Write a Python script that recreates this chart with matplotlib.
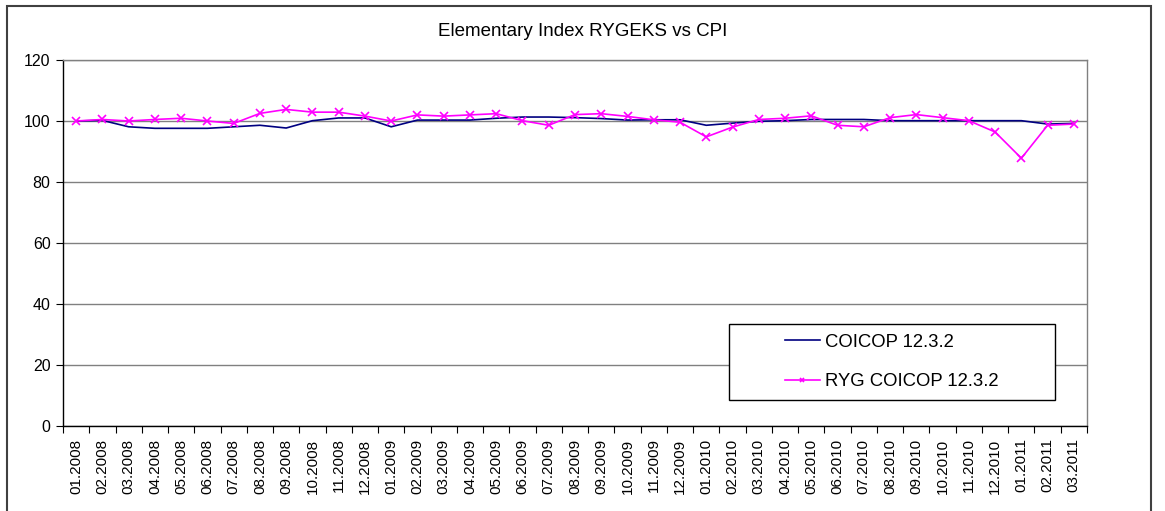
import matplotlib
matplotlib.use("Agg")
import matplotlib.pyplot as plt
from matplotlib.patches import Rectangle

plt.rcParams['font.family'] = ['Liberation Sans', 'DejaVu Sans']

# months 01.2008 .. 03.2011
months = ['%02d.%d' % (m, y) for y in (2008, 2009, 2010, 2011) for m in range(1, 13)][:39]

# COICOP 12.3.2 (CPI)
cpi = [100.0, 100.2, 98.1, 97.6, 97.6, 97.6, 98.1, 98.6, 97.7, 100.1, 101.0, 101.0,
       98.1, 100.3, 100.3, 100.3, 100.9, 101.3, 101.3, 101.1, 100.8, 100.3, 100.4, 100.4,
       98.6, 99.3, 99.9, 100.1, 100.5, 100.5, 100.5, 100.1, 100.1, 100.1, 100.1, 100.1,
       100.1, 99.0, 99.2]
# RYG COICOP 12.3.2
ryg = [100.0, 100.5, 100.0, 100.5, 100.9, 100.0, 99.2, 102.5, 103.8, 102.9, 102.9, 101.6,
       100.0, 102.0, 101.6, 102.0, 102.4, 100.1, 98.6, 102.1, 102.4, 101.5, 100.4, 99.6,
       94.8, 98.0, 100.5, 100.9, 101.7, 98.6, 98.1, 101.1, 102.1, 101.1, 100.1, 96.4,
       87.8, 98.6, 99.0]

W, H = 1165, 511
fig = plt.figure(figsize=(W / 100, H / 100), dpi=100)
ax = fig.add_axes([63 / W, 1 - 426 / H, (1087 - 63) / W, (426 - 60) / H])

x = list(range(len(months)))
ax.plot(x, cpi, color='#000080', lw=1.2, label='COICOP 12.3.2', zorder=3)
ax.plot(x, ryg, color='#FF00FF', lw=1.2, marker='x', ms=6, mew=1.2,
        label='RYG COICOP 12.3.2', zorder=4)

ax.set_xlim(-0.5, len(months) - 0.5)
ax.set_ylim(0, 120)
ax.set_yticks(range(0, 121, 20))
ax.yaxis.grid(True, color='#808080', lw=1.0)
ax.set_axisbelow(True)

ax.set_xticks([i - 0.5 for i in range(len(months) + 1)])
ax.set_xticklabels([])
ax.set_xticks(x, minor=True)
ax.set_xticklabels(months, minor=True, rotation=90, fontsize=11)
ax.tick_params(axis='x', which='major', direction='out', length=5, color='black')
ax.tick_params(axis='x', which='minor', length=0, pad=9)
ax.tick_params(axis='y', direction='out', length=5, labelsize=11.5, pad=4)

for s in ('left', 'bottom'):
    ax.spines[s].set_color('black')
    ax.spines[s].set_linewidth(1.0)
for s in ('top', 'right'):
    ax.spines[s].set_color('#808080')
    ax.spines[s].set_linewidth(1.0)

# legend with a plain black frame
leg_box = (0.650, 0.071, 0.319, 0.208)
ax.add_patch(Rectangle(leg_box[:2], leg_box[2], leg_box[3], transform=ax.transAxes,
                       facecolor='white', edgecolor='black', lw=1.0, zorder=5))
leg = ax.legend(loc='center', bbox_to_anchor=leg_box, frameon=False, fontsize=13.3,
                handlelength=1.9, handletextpad=0.3, labelspacing=1.2, markerscale=0.6)
leg.set_zorder(6)

fig.text(0.5, 1 - 31 / H, 'Elementary Index RYGEKS vs CPI', ha='center', va='center', fontsize=13.5)

# outer chart border
fig.patches.append(Rectangle((7 / W, -0.05), (1151 - 7) / W, 1.05 - 6 / H,
                             transform=fig.transFigure, fill=False,
                             edgecolor='#404040', lw=1.5))

fig.savefig('out.png', dpi=100)
